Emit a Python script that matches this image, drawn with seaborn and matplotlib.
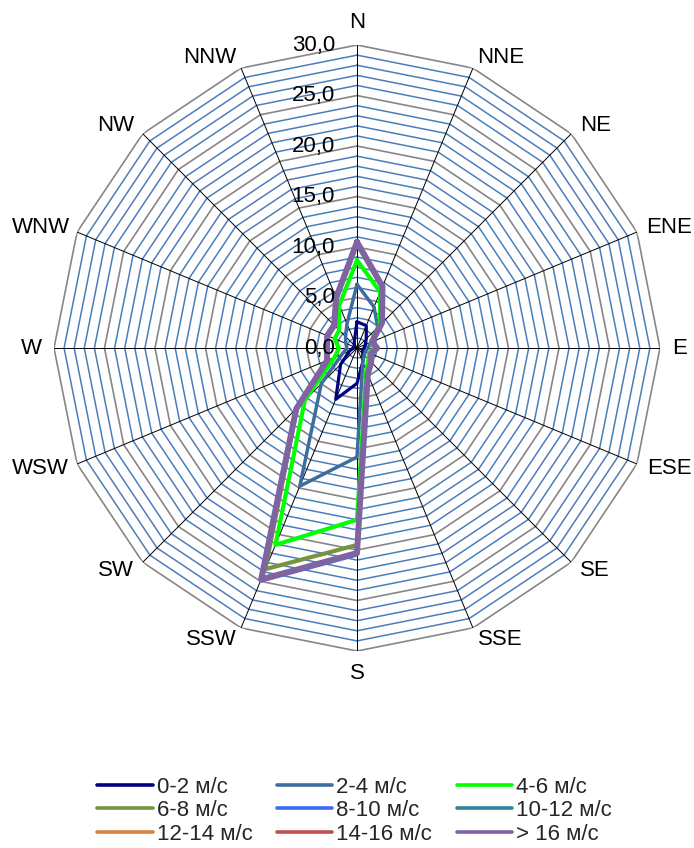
import numpy as np
import matplotlib
matplotlib.use("Agg")
import matplotlib.pyplot as plt
import seaborn as sns
from matplotlib.lines import Line2D
from matplotlib.transforms import offset_copy

# 16 румбов, по часовой стрелке от севера
directions = ["N", "NNE", "NE", "ENE", "E", "ESE", "SE", "SSE",
              "S", "SSW", "SW", "WSW", "W", "WNW", "NW", "NNW"]

# накопленная повторяемость, %
speed_0_2 = [2.6, 2.4, 1.3, 0.9, 0.7, 0.6, 0.8, 1.5, 3.5, 5.5, 2.3, 0.8, 0.4, 0.3, 0.4, 0.7]
speed_2_4 = [6.3, 4.4, 2.9, 1.5, 1.1, 0.9, 1.0, 1.5, 10.8, 14.8, 5.0, 1.6, 1.0, 1.2, 1.6, 2.6]
speed_4_6 = [8.7, 6.0, 3.2, 1.5, 1.7, 1.3, 1.6, 2.4, 17.0, 21.1, 7.3, 2.4, 1.8, 2.4, 2.5, 4.6]
speed_6_8 = [10.3, 6.5, 3.4, 1.6, 1.9, 1.4, 1.9, 2.7, 19.5, 23.7, 8.4, 3.1, 2.9, 3.1, 3.1, 5.3]
speed_8_10 = [10.5, 6.6, 3.5, 1.6, 2.0, 1.5, 2.0, 2.8, 20.5, 25.0, 8.5, 3.2, 3.0, 3.2, 3.2, 5.4]
speed_10_12 = [10.5, 6.6, 3.5, 1.6, 2.0, 1.5, 2.0, 2.8, 20.3, 24.8, 8.5, 3.2, 3.0, 3.2, 3.2, 5.4]
speed_12_14 = [10.5, 6.6, 3.5, 1.6, 2.0, 1.5, 2.0, 2.8, 20.3, 24.8, 8.5, 3.2, 3.0, 3.2, 3.2, 5.4]
speed_14_16 = [10.5, 6.6, 3.5, 1.6, 2.0, 1.5, 2.0, 2.8, 20.3, 24.8, 8.5, 3.2, 3.0, 3.2, 3.2, 5.4]
speed_16_up = [10.5, 6.6, 3.5, 1.6, 2.0, 1.5, 2.0, 2.8, 20.3, 24.8, 8.5, 3.2, 3.0, 3.2, 3.2, 5.4]

series = [speed_0_2, speed_2_4, speed_4_6, speed_6_8, speed_8_10,
          speed_10_12, speed_12_14, speed_14_16, speed_16_up]
series_labels = ["0-2 м/с", "2-4 м/с", "4-6 м/с", "6-8 м/с", "8-10 м/с",
                 "10-12 м/с", "12-14 м/с", "14-16 м/с", "> 16 м/с"]
series_colors = ["#000080", "#3F6C9E", "#00FF00", "#77933C", "#3D6BF5",
                 "#31849B", "#D9813A", "#C0504D", "#8064A2"]
series_widths = [2.3, 2.5, 3.0, 3.0, 2.2, 2.2, 2.2, 2.2, 4.3]

r_max = 30
r_ticks = list(range(0, 31, 5))

sns.set_theme(style="white")
plt.rcParams['font.family'] = ['Liberation Sans', 'DejaVu Sans']

fig = plt.figure(figsize=(6.94, 8.48), dpi=100)
ax = fig.add_axes([0.0778, 0.2323, 0.8732, 0.7146], projection='polar')
ax.set_theta_zero_location('N')
ax.set_theta_direction(-1)
ax.set_ylim(0, r_max)
ax.grid(False)
ax.set_xticks([])
ax.set_yticks([])
ax.spines['polar'].set_visible(False)
ax.patch.set_alpha(0)

theta = np.linspace(0, 2 * np.pi, len(directions), endpoint=False)
theta_closed = np.append(theta, 2 * np.pi)

# многоугольная сетка
for r in range(1, r_max + 1):
    if r % 5 == 0:
        ax.plot(theta_closed, [r] * len(theta_closed), color="#868686", lw=1.2, zorder=1)
    else:
        ax.plot(theta_closed, [r] * len(theta_closed), color="#4A7EBB", lw=1.1, zorder=1)
for t in theta:
    ax.plot([t, t], [0, r_max], color="black", lw=0.7, zorder=2)

# ряды
for vals, label, color, lw in zip(series, series_labels, series_colors, series_widths):
    sns.lineplot(x=theta_closed, y=np.append(vals, vals[0]), ax=ax, color=color,
                 linewidth=lw, sort=False, estimator=None, zorder=3)
if ax.get_legend() is not None:
    ax.get_legend().remove()
ax.set_xlabel("")
ax.set_ylabel("")

# подписи румбов: от вершины наружу на 12 px
for t, name in zip(theta, directions):
    s, c = np.sin(t), np.cos(t)
    dx, dy = 12 * s, 12 * c
    if abs(s) < 0.1:
        ha, va = 'center', ('bottom' if c > 0 else 'top')
    elif s > 0:
        ha, va = 'left', 'center'
    else:
        ha, va = 'right', 'center'
    # прижаты к краю области диаграммы
    if name in ("ENE", "ESE"):
        ha, dx = 'right', 55
    if name in ("WNW", "WSW"):
        ha, dx = 'left', -65
    tr = offset_copy(ax.transData, fig=fig, x=dx, y=dy, units='dots')
    ax.text(t, r_max, name, transform=tr, ha=ha, va=va, fontsize=16,
            color="black", clip_on=False)

# подписи шкалы
tick_tr = offset_copy(ax.transData, fig=fig, x=-22, y=0, units='dots')
for v in r_ticks:
    ax.text(0, v, f"{v:.1f}".replace('.', ','), transform=tick_tr,
            ha='right', va='center', fontsize=16, color="black")

# легенда по строкам
handles = [Line2D([], [], color=c, lw=2.6) for c in series_colors]
order = [0, 3, 6, 1, 4, 7, 2, 5, 8]
fig.legend([handles[i] for i in order], [series_labels[i] for i in order],
           ncol=3, loc='center', bbox_to_anchor=(0.511, 0.044), frameon=False,
           fontsize=16, handlelength=2.5, handletextpad=0.18, columnspacing=1.1,
           labelspacing=0.12, borderaxespad=0, borderpad=0)

fig.savefig("out.png", dpi=100)
